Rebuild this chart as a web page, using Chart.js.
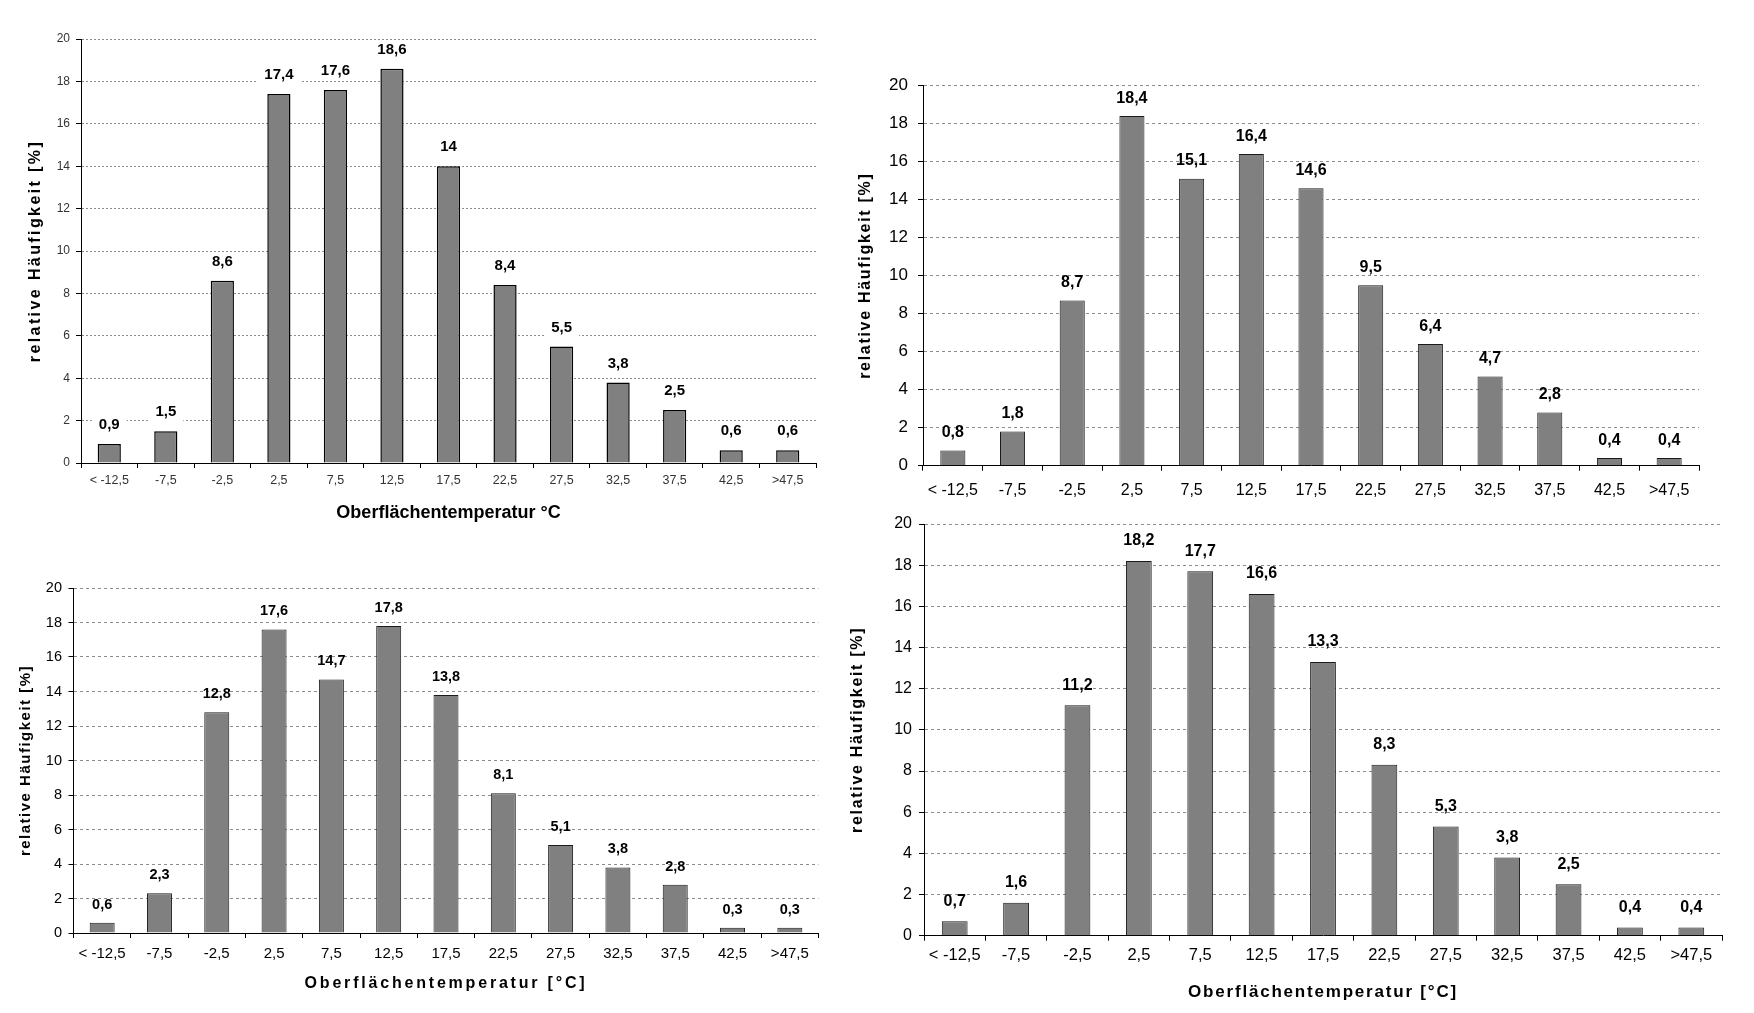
<!DOCTYPE html>
<html>
<head>
<meta charset="utf-8">
<script src="https://cdn.jsdelivr.net/npm/chart.js@4/dist/chart.umd.min.js"></script>
<style>
  html, body { margin: 0; padding: 0; background: #fff; width: 1754px; height: 1013px; overflow: hidden; }
  canvas { position: absolute; }
</style>
</head>
<body>
<canvas id="c1" width="830" height="535" style="left:0px;top:0px;"></canvas>
<canvas id="c2" width="870" height="460" style="left:845px;top:50px;"></canvas>
<canvas id="c3" width="835" height="453" style="left:0px;top:560px;"></canvas>
<canvas id="c4" width="890" height="518" style="left:845px;top:495px;"></canvas>
<script>
// ---------- data ----------
const categories = ['< -12,5', '-7,5', '-2,5', '2,5', '7,5', '12,5', '17,5', '22,5', '27,5', '32,5', '37,5', '42,5', '>47,5'];
const valuesTopLeft     = [0.9, 1.5, 8.6, 17.4, 17.6, 18.6, 14, 8.4, 5.5, 3.8, 2.5, 0.6, 0.6];
const valuesTopRight    = [0.8, 1.8, 8.7, 18.4, 15.1, 16.4, 14.6, 9.5, 6.4, 4.7, 2.8, 0.4, 0.4];
const valuesBottomLeft  = [0.6, 2.3, 12.8, 17.6, 14.7, 17.8, 13.8, 8.1, 5.1, 3.8, 2.8, 0.3, 0.3];
const valuesBottomRight = [0.7, 1.6, 11.2, 18.2, 17.7, 16.6, 13.3, 8.3, 5.3, 3.8, 2.5, 0.4, 0.4];
const yMin = 0, yMax = 20, yStep = 2;
const yTitle = 'relative Häufigkeit [%]';
const xTitleA = 'Oberflächentemperatur °C';
const xTitleB = 'Oberflächentemperatur [°C]';

// ---------- plugins ----------
const FAMILY = "'Liberation Sans', Arial, sans-serif";

const valueLabels = {
  id: 'valueLabels',
  afterDatasetsDraw(chart, args, opts) {
    const ctx = chart.ctx;
    const meta = chart.getDatasetMeta(0);
    const data = chart.data.datasets[0].data;
    ctx.save();
    ctx.font = 'bold ' + opts.size + 'px ' + FAMILY;
    ctx.textAlign = 'center';
    ctx.textBaseline = 'middle';
    meta.data.forEach((bar, i) => {
      const txt = String(data[i]).replace('.', ',');
      const y = bar.y - opts.offset;
      if (opts.bg) {
        const w = ctx.measureText(txt).width;
        ctx.fillStyle = opts.bg;
        ctx.fillRect(bar.x - w / 2 - opts.bgPad, y - opts.size * 0.6, w + 2 * opts.bgPad, opts.size * 1.2);
      }
      ctx.fillStyle = opts.color || '#000';
      ctx.fillText(txt, bar.x, y);
    });
    ctx.restore();
  }
};

const letterSpacing = {
  id: 'ls',
  beforeDraw(chart, args, opts) {
    ['x', 'y'].forEach(id => {
      const s = chart.scales[id];
      if (!s || s._lsWrapped) return;
      const orig = s.drawTitle.bind(s);
      const val = opts[id] || '0px';
      s.drawTitle = function () {
        const c = this.ctx;
        c.save();
        c.letterSpacing = val;
        orig();
        c.restore();
      };
      s._lsWrapped = true;
    });
  }
};

function makeChart(id, values, st) {
  const ctx = document.getElementById(id);
  return new Chart(ctx, {
    type: 'bar',
    data: {
      labels: categories,
      datasets: [{
        data: values,
        backgroundColor: '#808080',
        borderColor: st.barBorderColor,
        borderWidth: st.barBorder,
        borderSkipped: 'bottom',
        barPercentage: st.barPct,
        categoryPercentage: 1
      }]
    },
    options: {
      responsive: false,
      animation: false,
      devicePixelRatio: 1,
      layout: { padding: { top: st.padTop, right: st.padRight, left: 0, bottom: 0 } },
      plugins: {
        legend: { display: false },
        tooltip: { enabled: false },
        valueLabels: st.labels,
        ls: { x: st.xTitleLs, y: st.yTitleLs }
      },
      scales: {
        x: {
          type: 'category',
          offset: true,
          afterFit: s => { s.height = st.xHeight; },
          grid: { display: true, drawOnChartArea: false, drawTicks: true, tickLength: 5, color: '#000', offset: true },
          border: { display: true, color: '#000', width: 1 },
          ticks: { color: st.tickColor, font: { family: FAMILY, size: st.xTickSize }, padding: st.xTickPad, maxRotation: 0, autoSkip: false },
          title: st.xTitle ? {
            display: true, text: st.xTitle, color: '#000',
            font: { family: FAMILY, size: st.xTitleSize, weight: 'bold' },
            padding: { top: 0, bottom: st.xTitlePad }
          } : { display: false }
        },
        y: {
          min: yMin, max: yMax,
          afterFit: s => { s.width = st.yWidth; },
          grid: {
            color: c => (c.tick && c.tick.value === 0) ? 'rgba(0,0,0,0)' : st.gridColor,
            lineWidth: 1, drawTicks: true, tickLength: 5, tickColor: '#000'
          },
          border: { display: true, color: '#000', width: 1, dash: st.gridDash },
          ticks: { stepSize: yStep, color: st.tickColor, font: { family: FAMILY, size: st.yTickSize }, padding: st.yTickPad },
          title: {
            display: true, text: yTitle, color: '#000',
            font: { family: FAMILY, size: st.yTitleSize, weight: 'bold' },
            padding: { top: st.yTitlePad, bottom: 0 }
          }
        }
      }
    },
    plugins: [valueLabels, letterSpacing]
  });
}

// Top-left
makeChart('c1', valuesTopLeft, {
  padTop: 39, padRight: 14, yWidth: 81, xHeight: 72,
  barPct: 0.41, barBorder: 1.5, barBorderColor: '#000',
  gridColor: '#8c8c8c', gridDash: [2, 2], tickColor: '#333',
  xTickSize: 12.5, xTickPad: 5, yTickSize: 12, yTickPad: 6,
  xTitle: xTitleA, xTitleSize: 18, xTitlePad: 11, xTitleLs: '0px',
  yTitleSize: 16, yTitlePad: 26, yTitleLs: '2.4px',
  labels: { size: 15, offset: 19, bg: '#fff', bgPad: 7, color: '#000' }
});

// Top-right
makeChart('c2', valuesTopRight, {
  padTop: 35.7, padRight: 16, yWidth: 78, xHeight: 44.3,
  barPct: 0.42, barBorder: 1, barBorderColor: '#1a1a1a',
  gridColor: '#8c8c8c', gridDash: [3, 3], tickColor: '#000',
  xTickSize: 16, xTickPad: 10, yTickSize: 17, yTickPad: 10,
  xTitle: null, xTitleLs: '0px',
  yTitleSize: 16, yTitlePad: 11.4, yTitleLs: '1.7px',
  labels: { size: 16, offset: 18, bg: null, bgPad: 0, color: '#000' }
});

// Bottom-left
makeChart('c3', valuesBottomLeft, {
  padTop: 28, padRight: 16.5, yWidth: 73.5, xHeight: 80,
  barPct: 0.436, barBorder: 1, barBorderColor: '#1a1a1a',
  gridColor: '#8c8c8c', gridDash: [3, 3], tickColor: '#000',
  xTickSize: 15, xTickPad: 7, yTickSize: 14.5, yTickPad: 6.5,
  xTitle: xTitleB, xTitleSize: 16, xTitlePad: 19.5, xTitleLs: '2.8px',
  yTitleSize: 15, yTitlePad: 17, yTitleLs: '1.5px',
  labels: { size: 14.5, offset: 18, bg: null, bgPad: 0, color: '#000' }
});

// Bottom-right
makeChart('c4', valuesBottomRight, {
  padTop: 29, padRight: 13, yWidth: 79, xHeight: 77.3,
  barPct: 0.42, barBorder: 1, barBorderColor: '#1a1a1a',
  gridColor: '#8c8c8c', gridDash: [3, 3], tickColor: '#000',
  xTickSize: 16.5, xTickPad: 5, yTickSize: 16, yTickPad: 7,
  xTitle: xTitleB, xTitleSize: 17, xTitlePad: 10, xTitleLs: '1.8px',
  yTitleSize: 16, yTitlePad: 3, yTitleLs: '1.7px',
  labels: { size: 16, offset: 20, bg: null, bgPad: 0, color: '#000' }
});
</script>
</body>
</html>
